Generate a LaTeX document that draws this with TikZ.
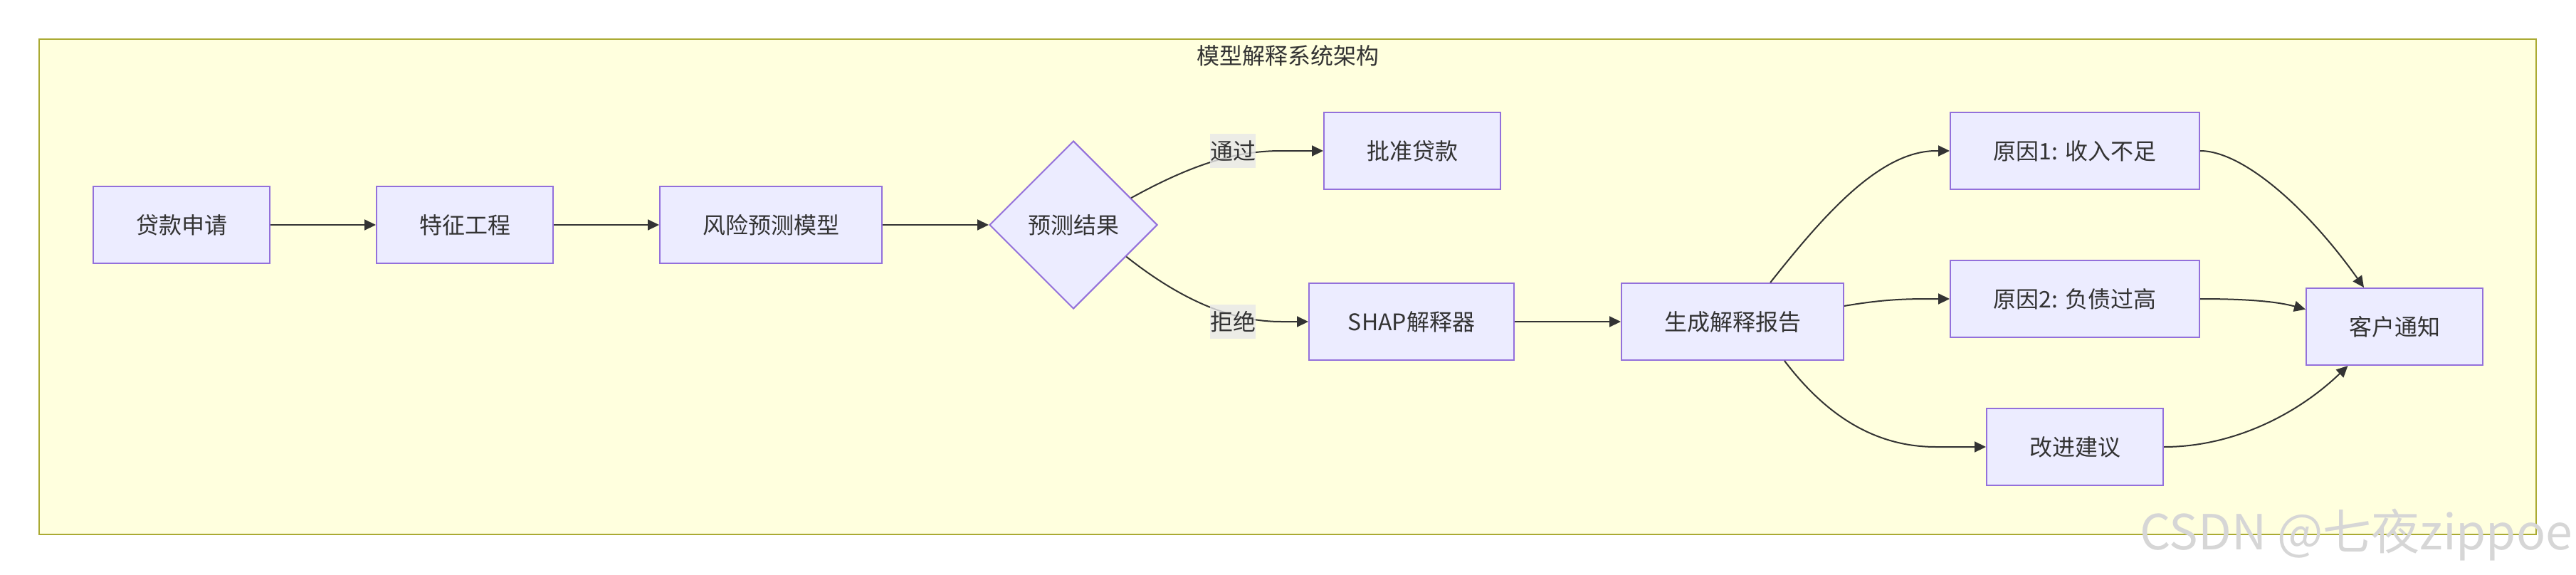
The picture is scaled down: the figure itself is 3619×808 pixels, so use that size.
\documentclass[tikz,border=0pt]{standalone}
\usepackage{fontspec}
\setmainfont{Noto Sans CJK SC}
\usetikzlibrary{shapes.geometric,arrows.meta}
\definecolor{nodefill}{HTML}{ECECFF}
\definecolor{nodeline}{HTML}{9370DB}
\definecolor{framefill}{HTML}{FFFFDE}
\definecolor{frameline}{HTML}{AAAA33}
\definecolor{txt}{HTML}{333333}
\definecolor{lblfill}{HTML}{E8E8E8}
\definecolor{wm}{HTML}{D6D6D6}
\begin{document}
\begin{tikzpicture}[x=1pt,y=-1pt,
  every node/.style={text=txt, font=\fontsize{32}{38}\selectfont},
  box/.style={draw=nodeline, fill=nodefill, line width=2pt, minimum height=108pt, minimum width=248pt, inner sep=0pt},
  decision/.style={diamond, draw=nodeline, fill=nodefill, line width=2pt, minimum width=236pt, minimum height=236pt, inner sep=0pt},
  link/.style={draw=txt, line width=2pt, -{Triangle[length=16pt,width=15pt]}},
  lbl/.style={fill=lblfill, fill opacity=0.8, text opacity=1, minimum width=63pt, minimum height=48pt, inner sep=0pt},
  frame/.style={draw=frameline, fill=framefill, line width=2.5pt, minimum width=3508pt, minimum height=696pt, inner sep=0pt}
]
\useasboundingbox[fill=white] (0,0) rectangle (3619,808);
\node[frame] (grp) at (1809,403) {};
\node[inner sep=0pt] (title) at (1809,78) {模型解释系统架构};

\node[box] (apply) at (255,316) {贷款申请};
\node[box] (feat) at (653,316) {特征工程};
\node[box, minimum width=312pt] (model) at (1083,316) {风险预测模型};
\node[decision] (dec) at (1508,316) {预测结果};
\node[box] (approve) at (1984,212) {批准贷款};
\node[box, minimum width=288pt] (shap) at (1983,452) {SHAP解释器};
\node[box, minimum width=312pt] (report) at (2434,452) {生成解释报告};
\node[box, minimum width=350pt] (r1) at (2915,212) {原因1: 收入不足};
\node[box, minimum width=350pt] (r2) at (2915,420) {原因2: 负债过高};
\node[box] (adv) at (2915,628) {改进建议};
\node[box] (notify) at (3364,459) {客户通知};

\coordinate (l1) at (1732,212);
\coordinate (l2) at (1732,452);

\draw[link] (apply) -- (feat);
\draw[link] (feat) -- (model);
\draw[link] (model) -- (dec);
\draw[link] (dec.25) .. controls (1680,228) and (1740,212) .. (1800,212) -- (approve.west);
\draw[link] (dec.-31) .. controls (1670,430) and (1740,452) .. (1800,452) -- (shap.west);
\draw[link] (shap) -- (report);
\draw[link] (report.46) .. controls (2560,305) and (2640,212) .. (2720,212) -- (r1.west);
\draw[link] (report.8) .. controls (2650,420) and (2680,420) .. (2720,420) -- (r2.west);
\draw[link] (report.-37) .. controls (2570,590) and (2640,628) .. (2720,628) -- (adv.west);
\draw[link] (r1.east) .. controls (3150,212) and (3240,290) .. (notify.128);
\draw[link] (r2.east) .. controls (3160,420) and (3200,424) .. (notify.169);
\draw[link] (adv.east) .. controls (3140,628) and (3230,580) .. (notify.220);

\node[lbl] (pass) at (l1) {通过};
\node[lbl] (reject) at (l2) {拒绝};

\node[anchor=base, inner sep=0pt, text=wm, font=\fontsize{68}{80}\selectfont] (wmark) at (3310,772) {CSDN @七夜zippoe};
\end{tikzpicture}
\end{document}
